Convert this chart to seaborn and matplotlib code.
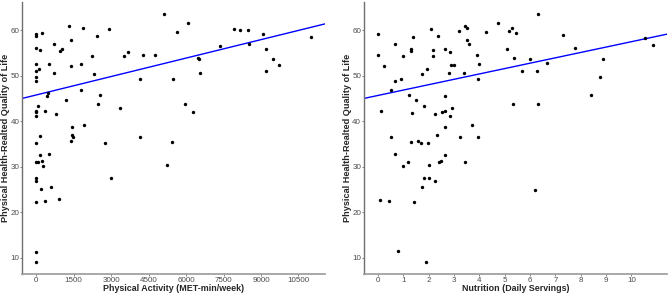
import numpy as np
import matplotlib
matplotlib.use("Agg")
import matplotlib.pyplot as plt
import pandas as pd
import seaborn as sns

# physical activity (MET-min/week) vs HRQoL
activity = [0, 0, 227, 0, 160, 0, 107, 0, 0, 0, 520, 707, 933, 1040, 707, 1320, 1400,
            1387, 1853, 1787, 2227, 2333, 2427, 2933, 1787, 2560, 2467, 1200, 467, 413,
            67, 333, 0, 0, 0, 773, 3373, 3533, 3680, 4267, 4747, 5120, 4160, 5467, 5653,
            6067, 5960, 6280, 6467, 6520, 6573, 7360, 7907, 8147, 8480, 8533, 9093, 9200,
            9200, 9493, 9733, 11013, 0, 147, 1427, 1427, 1467, 1387, 1920, 2773, 4173,
            5440, 133, 507, 0, 67, 213, 267, 0, 0, 200, 587, 0, 333, 907, 5227, 3000, 0, 0]
qol_activity = [59.1, 58.8, 59.3, 56.2, 55.6, 52.7, 51.6, 51.1, 49.7, 48.8, 52.5, 57.1, 55.5,
                56.0, 50.6, 61.0, 57.8, 52.2, 60.4, 52.7, 54.4, 50.5, 58.7, 60.2, 47.0, 45.9,
                43.8, 44.8, 46.2, 45.6, 43.4, 42.3, 42.3, 42.0, 41.2, 41.7, 42.9, 54.4, 55.3,
                54.5, 54.5, 63.5, 49.4, 49.2, 59.7, 61.7, 43.8, 42.1, 54.0, 53.8, 50.7, 56.6,
                60.3, 60.0, 60.0, 57.1, 59.1, 55.8, 51.1, 53.6, 52.3, 58.5, 35.2, 36.7, 38.8,
                37.0, 36.5, 35.6, 39.1, 35.3, 36.6, 35.5, 32.7, 32.9, 31.1, 31.0, 31.2, 30.1,
                27.5, 26.9, 25.1, 25.5, 22.2, 22.6, 22.9, 30.5, 27.5, 11.4, 9.2]

# nutrition (daily servings) vs HRQoL
nutrition = [0.01, 0.0, 0.24, 0.12, 0.51, 0.52, 0.68, 0.67, 0.92, 0.98, 1.21, 1.31, 1.31,
             1.36, 1.35, 1.50, 1.30, 1.56, 1.68, 1.74, 1.81, 1.93, 1.97, 2.07, 2.15, 2.18,
             2.24, 2.35, 2.34, 2.52, 2.64, 2.64, 2.66, 2.66, 2.80, 2.83, 2.86, 2.85, 2.93,
             3.00, 3.20, 3.23, 3.41, 3.42, 3.49, 3.49, 3.58, 3.71, 3.90, 3.96, 4.00, 3.95,
             4.25, 4.74, 5.09, 5.17, 5.28, 5.31, 5.35, 5.46, 5.67, 6.01, 6.26, 6.30, 6.33,
             6.65, 7.30, 7.76, 8.40, 8.77, 8.86, 10.52, 10.85, 0.67, 1.18, 0.98, 2.01, 2.40,
             2.48, 2.65, 3.42, 1.82, 2.01, 2.26, 1.72, 0.06, 0.43, 1.43, 6.19, 0.80, 1.88]
qol_nutrition = [59.1, 54.6, 52.1, 42.2, 47.0, 36.5, 48.9, 57.1, 49.4, 54.4, 45.8, 56.0, 55.5,
                 58.6, 41.9, 44.6, 35.5, 35.6, 35.2, 50.5, 43.3, 51.6, 35.2, 60.2, 54.3, 55.6,
                 41.7, 58.7, 37.1, 42.1, 55.8, 45.6, 38.8, 42.3, 50.6, 55.3, 52.4, 41.2, 42.9,
                 52.4, 59.9, 36.6, 50.6, 60.9, 60.4, 57.8, 57.1, 39.1, 54.5, 49.2, 52.7, 36.5,
                 59.7, 61.7, 56.0, 59.9, 60.4, 43.8, 53.9, 59.3, 51.0, 53.8, 51.1, 43.8, 63.5,
                 52.8, 59.0, 56.2, 45.9, 49.7, 53.6, 58.4, 56.7, 32.9, 31.1, 30.2, 30.5, 31.1,
                 31.2, 32.7, 31.1, 27.5, 27.5, 26.8, 25.5, 22.8, 22.6, 22.2, 24.9, 11.5, 9.2]

# fitted lines as drawn in the reference (intercept, slope)
fit_activity = (45.8, 0.00135)
fit_nutrition = (45.7, 1.18)

activity_ticks = [0, 1500, 3000, 4500, 6000, 7500, 9000, 10500]
nutrition_ticks = list(range(0, 11))
y_ticks = [10, 20, 30, 40, 50, 60]
y_label = "Physical Health-Realted Quality of Life"

df_a = pd.DataFrame({"x": activity, "y": qol_activity})
df_n = pd.DataFrame({"x": nutrition, "y": qol_nutrition})

sns.set_style("white")
plt.rcParams['font.family'] = ['Liberation Sans', 'DejaVu Sans']

fig = plt.figure(figsize=(6.69, 2.95), dpi=100)
ax1 = fig.add_axes([0.0336, 0.0712, 0.4522, 0.922])
ax2 = fig.add_axes([0.5446, 0.0712, 0.452, 0.922])


def lims(v):
    lo, hi = min(v), max(v)
    pad = (hi - lo) * 0.05
    return lo - pad, hi + pad


ylo, yhi = lims(qol_activity + qol_nutrition)
panels = [(ax1, df_a, fit_activity, activity_ticks, "Physical Activity (MET-min/week)"),
          (ax2, df_n, fit_nutrition, nutrition_ticks, "Nutrition (Daily Servings)")]
for ax, df, fit, xt, xl in panels:
    xlo, xhi = lims(df["x"].tolist())
    ax.set_xlim(xlo, xhi)
    ax.set_ylim(ylo, yhi)
    sns.scatterplot(data=df, x="x", y="y", ax=ax, s=6, color="black",
                    linewidth=0, zorder=3)
    xs = np.array([xlo, xhi])
    sns.lineplot(x=xs, y=fit[0] + fit[1] * xs, ax=ax, color="#0000ff", lw=1.0)
    ax.set_xticks(xt)
    ax.set_yticks(y_ticks)
    ax.set_xlabel(xl, fontsize=6.4, fontweight="bold", labelpad=0)
    ax.set_ylabel(y_label, fontsize=6.6, fontweight="bold", labelpad=0)
    ax.tick_params(axis="both", labelsize=5.8, colors="#4d4d4d", length=1.5,
                   width=0.5, pad=0.8, left=True, bottom=True)
    for s in ["top", "right"]:
        ax.spines[s].set_visible(False)
    ax.spines["left"].set_color("#6f6f6f")
    ax.spines["bottom"].set_color("#9a9a9a")
    ax.spines["left"].set_linewidth(1.0)
    ax.spines["bottom"].set_linewidth(1.2)

plt.savefig("out.png", dpi=100)
